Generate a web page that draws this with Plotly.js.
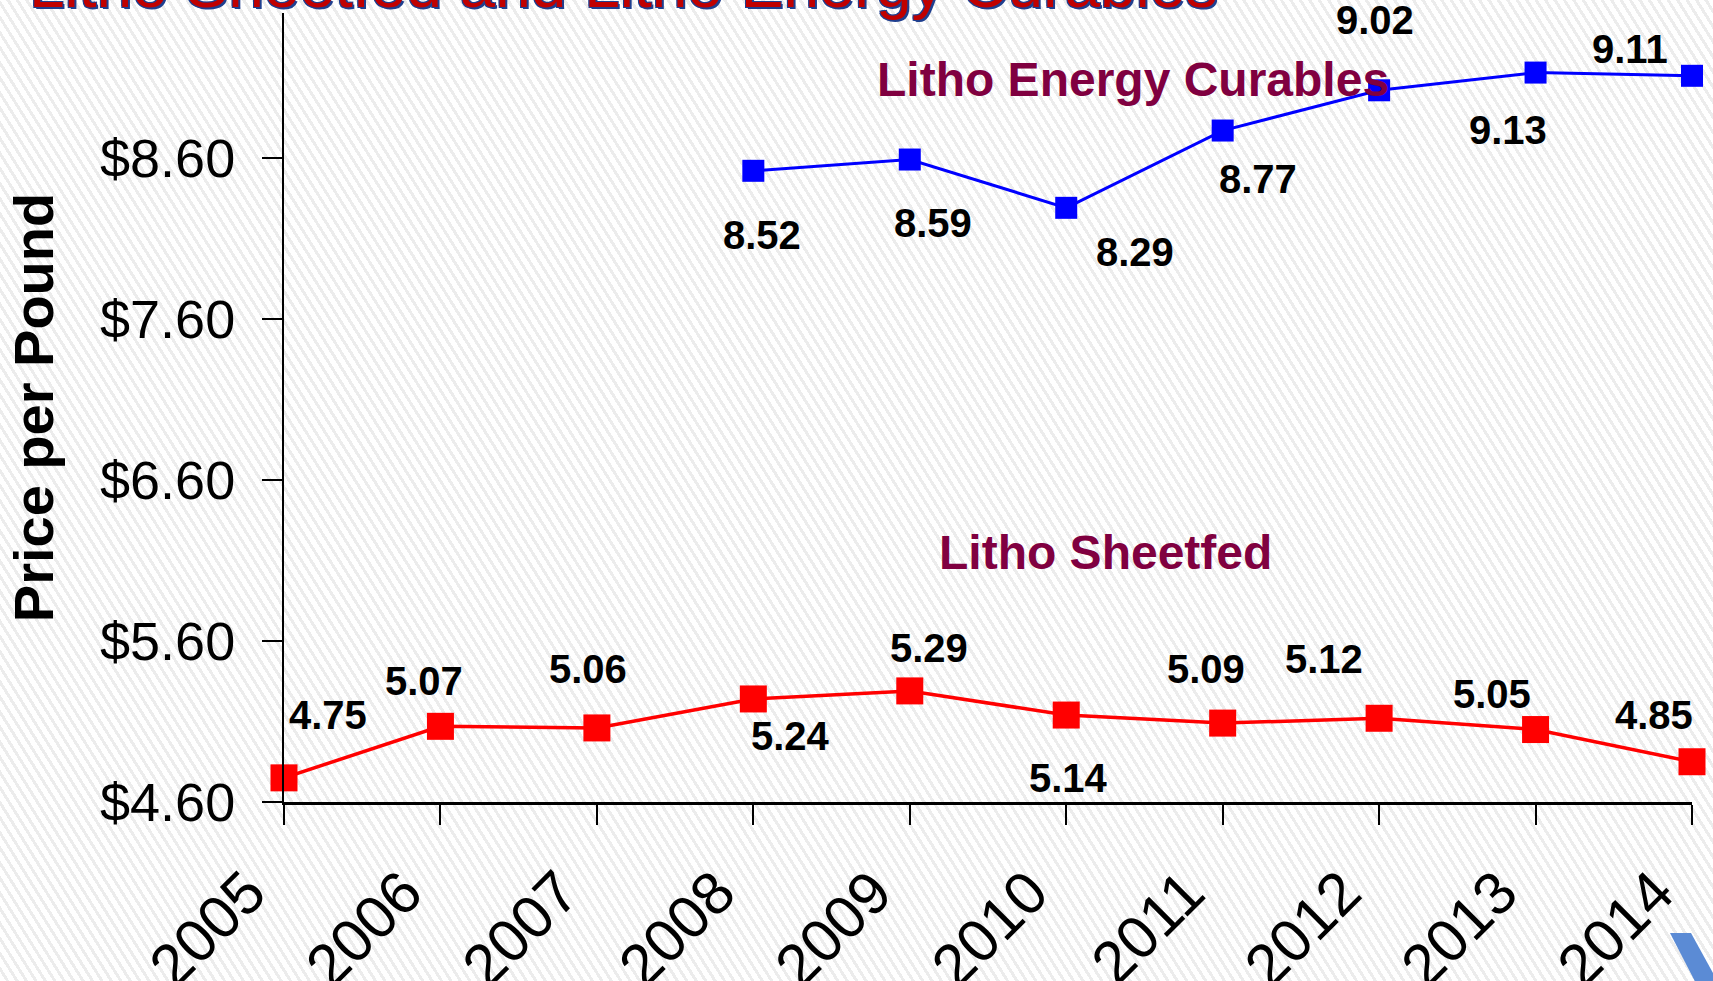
<!DOCTYPE html>
<html>
<head>
<meta charset="utf-8">
<script src="https://cdn.plot.ly/plotly-3.0.1.min.js"></script>
<style>
  html, body { margin: 0; padding: 0; overflow: hidden; }
  body {
    width: 1713px; height: 981px;
    background: repeating-linear-gradient(58deg, #ffffff 0px, #ffffff 5px, #ececec 5px, #ececec 8px);
  }
  #chart { width: 1713px; height: 981px; }
</style>
</head>
<body>
<div id="chart"></div>
<script>
// ---- data ----
const years = ["2005","2006","2007","2008","2009","2010","2011","2012","2013","2014"];
const sheetfed = [4.75, 5.07, 5.06, 5.24, 5.29, 5.14, 5.09, 5.12, 5.05, 4.85];
const energyCurables = [null, null, null, 8.52, 8.59, 8.29, 8.77, 9.02, 9.13, 9.11];
const yTicks = [4.60, 5.60, 6.60, 7.60, 8.60];
const yTickText = ["$4.60", "$5.60", "$6.60", "$7.60", "$8.60"];
const chartTitle = "Litho Sheetfed and Litho Energy Curables";
const yTitle = "Price per Pound";
const seriesNames = ["Litho Sheetfed", "Litho Energy Curables"];

// ---- label offsets (pixels: dx right, dy down) ----
const sheetfedLabelOffsets = [[44,-63],[-16,-45],[-9,-59],[37,37],[19,-43],[2,63],[-17,-54],[-55,-59],[-44,-36],[-38,-47]];
const curablesLabelOffsets = [null,null,null,[9,64],[23,63],[69,44],[35,48],[-4,-70],[-28,57],[-62,-27]];

const W = 1713, H = 981;
const M = {l: 284, r: 21, t: 13, b: 179};
const PW = W - M.l - M.r, PH = H - M.t - M.b;
const px = x => (x - M.l) / PW;
const py = y => (H - M.b - y) / PH;

const FONT = "Liberation Sans, Arial, sans-serif";

const traces = [
  {
    x: years, y: sheetfed, name: seriesNames[0], type: "scatter", mode: "lines+markers",
    line: {color: "#ff0000", width: 3.5},
    marker: {symbol: "square", size: 27, color: "#ff0000"},
    cliponaxis: false, hoverinfo: "x+y"
  },
  {
    x: years, y: energyCurables, name: seriesNames[1], type: "scatter", mode: "lines+markers",
    line: {color: "#0000ff", width: 3},
    marker: {symbol: "square", size: 22, color: "#0000ff"},
    cliponaxis: false, connectgaps: false, hoverinfo: "x+y"
  }
];

const annotations = [];
function addLabels(vals, offs) {
  vals.forEach((v, i) => {
    if (v === null) return;
    annotations.push({
      x: i, y: v, xref: "x", yref: "y", text: v.toFixed(2), showarrow: false,
      xanchor: "center", yanchor: "middle",
      xshift: offs[i][0], yshift: -offs[i][1],
      font: {family: FONT, size: 40, color: "#000000", weight: "bold"}
    });
  });
}
addLabels(sheetfed, sheetfedLabelOffsets);
addLabels(energyCurables, curablesLabelOffsets);

annotations.push({
  x: px(1133), y: py(80), xref: "paper", yref: "paper", xanchor: "center", yanchor: "middle",
  text: seriesNames[1], showarrow: false,
  font: {family: FONT, size: 48, color: "#800040", weight: "bold"}
});
annotations.push({
  x: px(1105), y: py(552), xref: "paper", yref: "paper", xanchor: "center", yanchor: "middle",
  text: seriesNames[0], showarrow: false,
  font: {family: FONT, size: 48, color: "#800040", weight: "bold"}
});
annotations.push({
  x: px(27), y: py(23), xref: "paper", yref: "paper", xanchor: "left", yanchor: "bottom",
  text: chartTitle, showarrow: false,
  font: {family: FONT, size: 64, color: "#c00000",
         shadow: "2px 2px 0px #1f3f8f, -1px -1px 0px #1f3f8f, 1px -1px 0px #1f3f8f, -1px 1px 0px #1f3f8f"}
});

const shapes = [{
  type: "path", xref: "paper", yref: "paper",
  path: `M ${px(1670)} ${py(933)} L ${px(1691)} ${py(933)} L ${px(1725)} ${py(995)} L ${px(1702)} ${py(995)} Z`,
  fillcolor: "#5b8bd5", line: {width: 0}, layer: "above"
}];

const layout = {
  width: W, height: H, margin: M,
  paper_bgcolor: "rgba(0,0,0,0)", plot_bgcolor: "rgba(0,0,0,0)",
  showlegend: false,
  font: {family: FONT, color: "#000000"},
  xaxis: {
    type: "category", range: [0, 9], showgrid: false, zeroline: false,
    showline: true, linecolor: "#000000", linewidth: 3,
    ticks: "outside", ticklen: 20, tickwidth: 2, tickcolor: "#000000",
    tickangle: -45, tickfont: {family: FONT, size: 60, color: "#000000"},
    ticklabelstandoff: 8, ticklabelshift: -36
  },
  yaxis: {
    range: [4.6, 9.5], showgrid: false, zeroline: false,
    showline: true, linecolor: "#000000", linewidth: 2,
    ticks: "outside", ticklen: 20, tickwidth: 2, tickcolor: "#000000",
    tickmode: "array", tickvals: yTicks, ticktext: yTickText,
    tickfont: {family: FONT, size: 54, color: "#000000"},
    ticklabelstandoff: 16,
    title: {text: yTitle, standoff: 28, font: {family: FONT, size: 56, color: "#000000", weight: "bold"}}
  },
  annotations: annotations,
  shapes: shapes
};

Plotly.newPlot("chart", traces, layout, {displayModeBar: false, staticPlot: true});
</script>
</body>
</html>
